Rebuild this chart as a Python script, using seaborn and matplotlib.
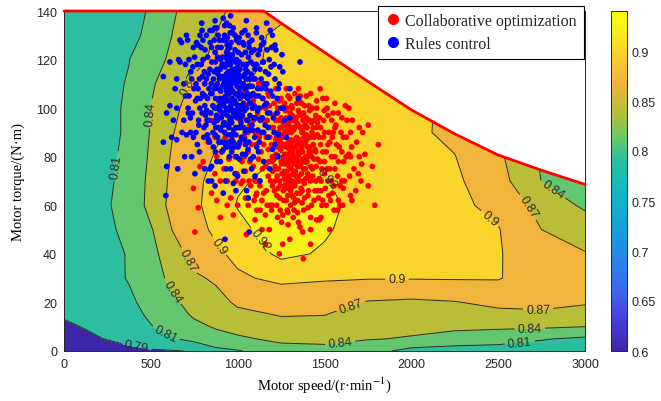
import numpy as np
import pandas as pd
import matplotlib
matplotlib.use("Agg")
import matplotlib.pyplot as plt
import seaborn as sns
from matplotlib.colors import LinearSegmentedColormap, Normalize
from matplotlib.cm import ScalarMappable
from matplotlib.lines import Line2D

# ---------------- data ----------------
speed_grid = [0, 250, 375, 500, 625, 750, 875, 1000, 1250, 1500, 1750, 2000, 2250, 2500, 2750, 3000]
torque_grid = [0, 5, 10, 15, 20, 30, 40, 50, 60, 70, 80, 90, 100, 110, 120, 130, 140]
eff_T0   = [.770, .780, .785, .788, .789, .791, .803, .808, .825, .828, .822, .800, .798, .797, .795, .792]
eff_T5   = [.780, .791, .796, .802, .8085, .816, .828, .834, .848, .850, .8415, .838, .826, .822, .812, .805]
eff_T10  = [.787, .795, .800, .809, .818, .832, .843, .853, .862, .863, .852, .846, .847, .845, .844, .840]
eff_T15  = [.792, .798, .803, .8135, .826, .8445, .853, .864, .8715, .8705, .861, .856, .858, .862, .868, .860]
eff_T20  = [.795, .800, .806, .8175, .834, .852, .861, .874, .882, .879, .868, .865, .8685, .877, .873, .8725]
eff_T30  = [.798, .803, .8115, .826, .848, .8655, .874, .896, .906, .903, .9015, .9015, .902, .9018, .884, .880]
eff_T40  = [.800, .806, .811, .832, .855, .8818, .895, .9065, .924, .918, .910, .906, .905, .9018, .885, .8715]
eff_T50  = [.800, .808, .813, .837, .871, .8905, .9051, .915, .930, .922, .912, .908, .905, .9015, .870, .857]
eff_T60  = [.800, .809, .815, .851, .8785, .8957, .9089, .921, .930, .925, .912, .907, .906, .893, .859, .835]
eff_T70  = [.800, .808, .8145, .849, .8765, .8945, .9073, .918, .925, .921, .912, .907, .905, .8815, .8394, .825]
eff_T80  = [.800, .807, .8135, .845, .8732, .8891, .902, .9083, .921, .917, .912, .907, .9007, .8755, .8367, .820]
eff_T90  = [.800, .806, .8125, .842, .869, .8829, .8963, .9042, .916, .917, .912, .905, .8945, .8807, .870, .860]
eff_T100 = [.800, .806, .8125, .8405, .8652, .8791, .8905, .901, .914, .916, .913, .905, .895, .888, .880, .875]
eff_T110 = [.800, .805, .8115, .8357, .8571, .8744, .8854, .8965, .9097, .914, .912, .909, .905, .900, .895, .890]
eff_T120 = [.800, .804, .8096, .8277, .8459, .8622, .8767, .8897, .9075, .912, .910, .907, .903, .898, .893, .888]
eff_T130 = [.800, .803, .806, .8135, .8406, .8556, .8705, .8842, .908, .910, .908, .905, .900, .895, .890, .885]
eff_T140 = [.800, .803, .8066, .811, .837, .852, .8656, .875, .890, .890, .888, .885, .882, .880, .875, .870]

fill_levels = [0.6, 0.79, 0.81, 0.84, 0.87, 0.90, 0.92, 0.94]
line_levels = [0.79, 0.81, 0.84, 0.87, 0.90, 0.92]
cbar_ticks = [0.6, 0.65, 0.7, 0.75, 0.8, 0.85, 0.9]

env_speed = [0, 1150, 1300, 1500, 1750, 2000, 2250, 2500, 2750, 3000]
env_torque = [140, 140, 132.6, 123, 111, 99.3, 89.4, 80.7, 74.4, 68.6]

label_spots = [(311, 76), (449, 98), (697, 111), (887, 43), (1100, 44), (1514, 71),
               (685, 36), (610, 24), (570, 5), (420, 3), (1647, 19.5), (1590, 3.5),
               (1917, 29), (2730, 16.5), (2683, 7.5), (2625, 3), (2440, 53.5),
               (2665, 59), (2800, 65)]

red_points = [
 (1318,82),(1275,77),(1362,86),(1296,71),(1344,93),(1231,80),(1389,75),(1309,90),(1257,88),(1371,66),
 (1302,79),(1335,72),(1280,96),(1415,84),(1242,70),(1326,84),(1361,78),(1288,64),(1428,90),(1310,75),
 (1247,83),(1380,98),(1330,68),(1271,81),(1403,73),(1315,95),(1219,87),(1353,81),(1293,86),(1441,79),
 (1326,77),(1262,94),(1374,91),(1307,67),(1397,87),(1235,75),(1284,74),(1350,99),(1419,70),(1301,92),
 (1366,83),(1323,63),(1209,79),(1340,88),(1278,69),(1393,80),(1314,100),(1255,73),(1435,85),(1297,83),
 (1332,87),(1270,85),(1406,95),(1318,73),(1244,92),(1384,69),(1305,60),(1360,92),(1227,72),(1452,76),
 (1372,79),(1313,86),(1228,84),(1346,76),(1285,91),(1411,82),(1263,66),(1337,96),(1290,79),(1425,94),
 (1309,84),(1356,70),(1251,78),(1395,89),(1322,91),(1238,95),(1368,73),(1299,68),(1446,83),(1275,99),
 (1269,74),(1341,65),(1213,90),(1377,85),(1306,78),(1420,76),(1292,95),(1355,87),(1232,67),(1387,93),
 (1325,80),(1260,89),(1408,66),(1315,97),(1248,83),(1364,77),(1280,62),(1336,84),(1459,89),(1296,76),
 (1351,93),(1287,81),(1399,78),(1222,81),(1343,70),(1274,93),(1382,88),(1311,64),(1433,72),(1266,79),
 (1338,79),(1302,98),(1243,63),(1376,95),(1320,69),(1414,99),(1257,95),(1348,82),(1290,70),(1392,71),
 (1281,88),(1358,76),(1216,76),(1329,92),(1402,84),(1268,71),(1371,61),(1304,87),(1237,88),(1440,95),
 (1345,85),(1279,67),(1390,93),(1316,81),(1252,77),(1363,97),(1299,72),(1424,80),(1230,98),(1333,74),
 (1294,93),(1381,75),(1264,85),(1327,61),(1416,88),(1245,86),(1369,84),(1311,78),(1450,70),(1286,84),
 (1150,85),(1175,72),(1120,79),(1190,92),(1165,66),(1135,96),(1198,78),(1110,70),(1182,101),(1140,62),
 (1490,82),(1515,75),(1478,92),(1530,86),(1505,67),(1470,71),(1542,95),(1498,99),(1525,64),(1485,60),
 (1200,60),(1260,56),(1320,55),(1380,58),(1440,62),(1230,100),(1300,104),(1355,103),(1410,101),(1270,102),
 (1185,88),(1208,97),(1226,64),(1460,94),(1475,78),(1495,88),(1160,76),(1215,70),(1480,66),(1500,73),
 (1100,90),(1090,76),(1125,88),(1560,80),(1575,72),(1550,90),(1105,64),(1585,84),(1130,100),(1555,68),
 (1195,58),(1245,58),(1290,57),(1345,57),(1405,59),(1465,63),(1170,95),(1250,104),(1330,106),(1395,105),
 (1060,82),(1070,93),(1045,74),(1610,78),(1625,88),(1600,70),(1040,88),(1075,68),(1640,81),(1030,96),
 (1145,104),(1175,106),(1520,97),(1540,70),(1455,100),(1160,56),(1200,68),(1510,60),(1120,70),(1565,93),
 (1010,85),(1025,78),(1000,92),(985,80),(1650,90),(1670,75),(1685,86),(1020,69),(995,73),(1660,95),
 (1110,58),(1140,50),(1470,54),(1420,50),(1580,62),(1060,60),(1600,96),(1050,101),(1620,101),(1090,103),
 (930,88),(950,79),(965,94),(940,70),(1700,80),(1720,90),(905,82),(920,94),(1710,70),(960,63),
 (1455,103),(1512,104),(1368,102),(1579,98),(1752,93),(1608,88),(1656,84),(1733,81),(1714,77),(1752,68),
 (745,67),(783,76),(802,78),(869,73),(1695,73),(1608,67),(773,59),(754,49),(975,56),(1182,50),
 (1253,53),(1359,51),(1455,54),(1378,38),(1658,62),(1589,60),(1374,49),(1100,54),(1259,44),(1300,46),
 (1420,44),(1160,44),(880,62),(900,55),(830,86),(860,95),(1050,48),(1240,40),(1530,50),(1810,85),
 (1775,76),(1790,60),(1040,106),(1120,110),(1475,108),
 (1120,90),(1135,82),(1150,95),(1165,88),(1108,85),(1142,75),(1176,83),(1190,70),(1128,68),(1160,100),
 (1180,78),(1195,85),(1205,92),(1212,66),(1188,60),(1220,95),(1201,74),(1235,90),(1225,60),(1210,102),
 (1470,88),(1485,75),(1495,95),(1510,82),(1462,66),(1478,85),(1525,90),(1500,78),(1540,80),(1455,92),
 (1520,70),(1545,88),(1560,75),(1535,62),(1550,98),(1570,85),(1490,62),(1580,78),(1515,100),(1595,90),
 (1250,96),(1270,90),(1285,100),(1300,85),(1320,92),(1340,80),(1355,98),(1375,82),(1395,96),(1410,88),
 (1265,62),(1285,58),(1305,66),(1325,58),(1345,62),(1365,67),(1385,63),(1405,64),(1425,60),(1445,66),
 (1430,100),(1450,97),(1400,92),(1385,101),(1360,105),(1340,102),(1310,101),(1290,105),(1260,100),(1240,103),
 (1240,85),(1260,80),(1275,72),(1290,90),(1305,81),(1330,87),(1350,72),(1370,90),(1390,86),(1420,82),
 (1440,88),(1460,79),(1480,70),(1430,75),(1410,72),(1380,70),(1360,65),(1335,78),(1315,70),(1295,78),
 (1090,95),(1100,70),(1080,85),(1070,78),(1095,62),(1115,98),(1060,90),(1130,58),(1085,100),(1150,65),
 (1600,82),(1615,70),(1630,95),(1605,60),(1645,72),(1590,68),(1625,80),(1650,64),(1575,58),(1640,100),
 (1000,85),(1015,95),(1040,80),(1030,70),(1055,95),(1045,63),(1020,88),(990,70),(1005,100),(1065,70),
 (1200,80),(1220,75),(1245,68),(1255,92),(1270,68),(1225,88),(1280,84),(1300,95),(1320,78),(1340,94),
 (1360,85),(1385,78),(1400,80),(1415,95),(1435,92),(1450,82),(1470,96),(1500,90),(1520,85),(1530,75),
 (1545,65),(1560,92),(1555,58),(1480,55),(1420,55),(1350,53),(1290,52),(1230,55),(1170,60),(1110,65),
 (1180,105),(1220,108),(1280,108),(1350,108),(1420,106),(1490,104),(1560,102),(1650,80),(1680,66),(1700,92),
 (850,65),(880,80),(900,70),(940,60),(920,75),(960,86),(975,98),(1000,60),(870,88),(950,104)]

blue_points = [
 (962,108),(918,112),(1005,101),(941,97),(987,119),(873,104),(1032,110),(955,125),(899,116),(1011,92),
 (946,103),(978,111),(923,94),(1058,104),(884,121),(967,99),(1004,114),(932,128),(1071,97),(951,113),
 (889,108),(1023,122),(973,89),(914,101),(1046,116),(958,118),(861,112),(996,96),(937,107),(1084,109),
 (969,104),(905,125),(1017,106),(950,92),(1040,99),(878,97),(927,117),(993,128),(1062,121),(944,110),
 (1009,111),(966,94),(852,106),(983,103),(921,86),(1036,92),(957,131),(898,99),(1078,114),(940,120),
 (975,115),(913,109),(1049,108),(961,101),(887,114),(1027,97),(948,86),(1003,123),(934,100),(1095,101),
 (1015,104),(956,111),(871,119),(989,92),(925,113),(1064,112),(943,124),(980,97),(903,91),(1030,118),
 (952,106),(997,109),(916,104),(1053,95),(868,100),(970,122),(1021,113),(938,93),(1089,106),(959,89),
 (907,117),(1001,117),(946,115),(1069,102),(882,110),(985,106),(928,121),(1038,105),(963,96),(895,128),
 (1012,99),(937,112),(1076,119),(954,120),(910,97),(992,113),(1045,123),(874,92),(967,110),(1024,88),
 (931,105),(1059,109),(948,99),(999,101),(892,103),(1008,127),(957,103),(1083,93),(920,110),(976,91),
 (864,115),(1042,114),(939,126),(987,111),(1101,112),(925,90),(968,116),(1019,94),(902,107),(953,134),
 (1034,102),(912,121),(981,85),(1066,125),(944,108),(1006,106),(885,125),(959,100),(1092,118),(927,98),
 (973,120),(917,93),(1051,100),(935,114),(990,89),(1028,109),(947,118),(866,108),(1013,116),(960,95),
 (896,101),(1074,105),(971,113),(921,118),(1044,90),(956,107),(1003,98),(880,116),(942,89),(1115,108),
 (985,99),(908,113),(1036,126),(951,122),(1086,100),(930,103),(994,120),(1057,115),(915,128),(967,87),
 (1010,108),(876,95),(1048,112),(938,109),(982,116),(901,120),(1071,109),(963,113),(1020,101),(946,93),
 (820,112),(845,98),(812,124),(1145,104),(1160,115),(1130,95),(798,106),(855,132),(1118,122),(1172,98),
 (838,86),(1125,86),(1150,127),(806,92),(860,84),(1108,131),(790,118),(842,127),(1168,110),(1135,112),
 (826,104),(1182,120),(815,97),(1140,90),(868,133),(1110,84),(782,100),(1155,101),(851,119),(1122,105),
 (800,128),(1190,107),(835,108),(1148,119),(808,115),(1098,88),(858,90),(1176,92),(824,95),(1137,126),
 (760,110),(1215,112),(775,95),(1205,96),(752,121),(1228,104),(768,104),(1195,125),(740,98),(1242,117),
 (780,82),(1201,83),(745,88),(1235,89),(795,132),(1188,132),(730,115),(1250,100),(772,126),(1220,124),
 (900,78),(952,80),(1010,79),(872,82),(1046,81),(935,75),(985,73),(1075,79),(918,83),(1002,84),
 (925,134),(975,133),(1025,131),(880,133),(1060,130),(1082,128),(985,130),
 (1095,124),(1105,96),(870,89),(1085,91),(1065,86),(840,116),(1128,116),(826,89),(1115,99),(811,101),
 (892,86),(1045,85),(966,82),(910,82),(1028,81),(940,84),(993,80),(1060,83),(865,94),(980,84),
 (793,135),(917,137),(937,135),(1042,132),(1109,133),(1167,135),(668,128),(677,127),(783,130),(610,119),
 (668,119),(572,113),(649,112),(1359,119),(1215,126),(1301,108),(1349,104),(1234,108),(591,98),(610,101),
 (716,98),(572,86),(649,87),(706,89),(591,76),(754,73),(850,76),(831,70),(917,65),(850,70),
 (975,69),(1129,70),(1052,66),(1061,63),(587,64),(1067,49),(927,46),(700,105),(720,120),(690,95),
 (735,80),(1270,95),(1260,115),(1280,88),(1185,75),(1230,80),(810,75),(1100,72),(870,68),(1000,72),
 (1150,78),(690,110),(705,130),(1300,96),
 (780,112),(795,98),(812,105),(768,118),(790,125),(805,88),(776,93),(820,130),(758,103),(801,120),
 (830,114),(845,106),(827,121),(850,125),(836,95),(848,110),(822,99),(841,132),(857,101),(833,87),
 (1120,100),(1135,108),(1108,118),(1142,96),(1127,124),(1150,110),(1116,91),(1138,129),(1104,105),(1145,119),
 (1165,102),(1178,114),(1158,93),(1185,98),(1170,124),(1192,117),(1162,108),(1200,105),(1175,88),(1210,118),
 (880,100),(895,112),(870,123),(905,96),(888,130),(912,118),(876,109),(899,104),(865,128),(883,95),
 (1060,95),(1075,102),(1052,118),(1088,112),(1067,127),(1094,96),(1057,106),(1080,123),(1099,116),(1070,91),
 (940,129),(962,127),(985,124),(925,130),(1008,129),(970,131),(1030,127),
 (930,85),(958,84),(1012,86),(884,88),(1040,87),(905,86),(1025,92),(975,86),(890,92),(1055,91),
 (720,105),(735,112),(745,125),(728,96),(742,117),(712,128),(730,90),(715,100),(748,108),
 (760,90),(772,108),(763,127),(785,104),(797,113),(768,85),(810,110),(817,93),
 (955,95),(945,118),(920,102),(1000,112),(1015,96),(985,102),(935,108),(968,121),(1002,105),(978,98),
 (913,98),(962,115),(1040,108),(990,115),(928,111),(1027,101),(950,100),(1009,119),(972,107),(936,123),
 (1210,90),(1225,98),(1240,110),(1255,122),(1200,130),(1265,100),(1215,85),
 (650,100),(660,120),(680,90),(640,108),(700,118),(630,95),(695,80),(655,75),(620,88),
 (840,75),(880,78),(930,70),(990,66),(1035,74),(1090,80),(960,75),(1150,90),(1120,82),(1080,75),
 (1050,136),(960,138),(870,136)]

series_names = ["Collaborative optimization", "Rules control"]
series_colors = ["#ff0000", "#0000ff"]

# ---------------- styling ----------------
sns.set_style("white")
plt.rcParams["font.family"] = ["Liberation Sans", "DejaVu Sans"]
plt.rcParams["mathtext.fontset"] = "stix"

par_vals = [0.60, 0.63, 0.66, 0.70, 0.73, 0.76, 0.79, 0.81, 0.84, 0.87, 0.90, 0.92, 0.94]
par_rgb = [(62, 38, 168), (70, 62, 215), (62, 102, 245), (35, 140, 230), (18, 166, 214),
           (14, 185, 190), (42, 190, 160), (98, 198, 112), (184, 190, 55), (242, 180, 60),
           (249, 212, 42), (246, 240, 30), (249, 251, 14)]
par_pos = [min(1.0, max(0.0, round((v - 0.6) / 0.34, 6))) for v in par_vals]
par_pos[0], par_pos[-1] = 0.0, 1.0
parula = LinearSegmentedColormap.from_list(
    "parula_like", list(zip(par_pos, [tuple(c / 255 for c in rgb) for rgb in par_rgb])))
norm = Normalize(0.6, 0.94)
band_colors = [parula(norm(lv)) for lv in fill_levels[:-1]]

fig = plt.figure(figsize=(6.61, 4.02), dpi=100)
ax = fig.add_axes([64 / 661, 50 / 402, 521 / 661, 340 / 402])

S, T = np.meshgrid(speed_grid, torque_grid)
Z = np.array([eff_T0, eff_T5, eff_T10, eff_T15, eff_T20, eff_T30, eff_T40, eff_T50, eff_T60,
              eff_T70, eff_T80, eff_T90, eff_T100, eff_T110, eff_T120, eff_T130, eff_T140])

ax.contourf(S, T, Z, levels=fill_levels, colors=band_colors, zorder=1)
cs = ax.contour(S, T, Z, levels=line_levels, colors="#2a2a2a", linewidths=0.7, zorder=2)
ax.clabel(cs, fmt="%g", fontsize=9, colors="#2a2a2a", inline=True, inline_spacing=3,
          manual=label_spots)

# white outside the torque envelope
ax.fill_between(env_speed, env_torque, 150, color="white", zorder=2.5, lw=0)

red_df = pd.DataFrame(red_points, columns=["speed", "torque"])
blue_df = pd.DataFrame(blue_points, columns=["speed", "torque"])
sns.scatterplot(data=red_df, x="speed", y="torque", color=series_colors[0], s=17,
                edgecolor="none", linewidth=0, ax=ax, zorder=3)
sns.scatterplot(data=blue_df, x="speed", y="torque", color=series_colors[1], s=17,
                edgecolor="none", linewidth=0, ax=ax, zorder=3.1)

ax.plot(env_speed, env_torque, color="#ff0000", lw=2, zorder=4, clip_on=False)

ax.set_xlim(0, 3000)
ax.set_ylim(0, 140)
ax.set_xticks([0, 500, 1000, 1500, 2000, 2500, 3000])
ax.set_yticks([0, 20, 40, 60, 80, 100, 120, 140])
ax.tick_params(direction="in", length=3, width=0.6, colors="#262626", labelsize=9,
               top=True, right=True, pad=5)
for sp in ax.spines.values():
    sp.set_color("#262626")
    sp.set_linewidth(0.7)
ax.set_xlabel("Motor speed/(r\u00b7min$^{-1}$)", fontfamily="Liberation Serif", fontsize=10.5,
              color="black", labelpad=3)
ax.set_ylabel("Motor torque/(N\u00b7m)", fontfamily="Liberation Serif", fontsize=10.5,
              color="black", labelpad=8)

handles = [Line2D([], [], marker="o", ls="none", color=c, markersize=7) for c in series_colors]
leg = fig.legend(handles, series_names, loc="upper left", bbox_to_anchor=(378 / 661, 1 - 7 / 402),
                 bbox_transform=fig.transFigure, borderaxespad=0, frameon=True, fancybox=False,
                 framealpha=1, edgecolor="black", prop={"family": "Liberation Serif", "size": 11.5},
                 handletextpad=0.3, borderpad=0.42, labelspacing=0.45, handlelength=1.0)
leg.get_frame().set_linewidth(0.8)

cax = fig.add_axes([611 / 661, 50 / 402, 16 / 661, 340 / 402])
cb = fig.colorbar(ScalarMappable(norm=norm, cmap=parula), cax=cax, ticks=cbar_ticks)
cb.ax.set_yticklabels(["%g" % v for v in cbar_ticks])
cb.ax.tick_params(direction="in", length=3, width=0.6, colors="#262626", labelsize=9)
cb.outline.set_linewidth(0.7)
cb.outline.set_edgecolor("#262626")

fig.savefig("out.png", dpi=100)
